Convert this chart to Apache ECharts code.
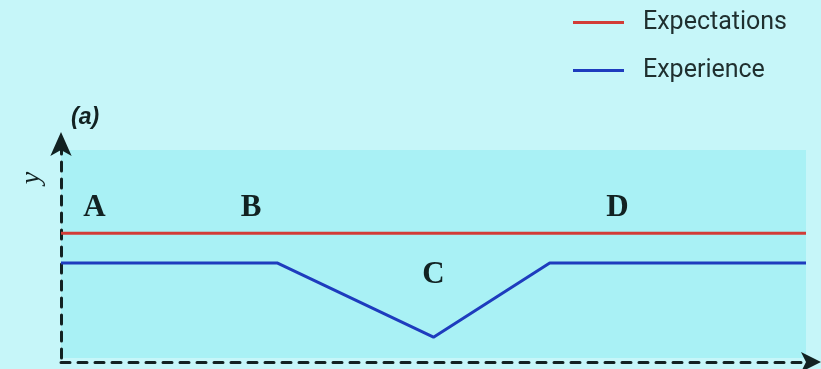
<!DOCTYPE html>
<html>
<head>
<meta charset="utf-8">
<style>
  html, body { margin: 0; padding: 0; background: #c6f6f9; }
  #chart { width: 821px; height: 369px; }
</style>
<script src="https://cdn.jsdelivr.net/npm/echarts@6/dist/echarts.min.js"></script>
</head>
<body>
<div id="chart"></div>
<script>
// x runs 0..100 across the panel, y runs 0..10 bottom to top
const expectationsX = [0, 100];
const expectationsY = [6, 6];
const experienceX = [0, 29, 50, 65.6, 100];
const experienceY = [4.57, 4.57, 1, 4.57, 4.57];

const phaseLabels = ["A", "B", "C", "D"];
const phaseX = [4.5, 25.5, 50, 74.7];
const phaseY = [7.2, 7.2, 4, 7.2];

const INK = "#122222";
const RED = "#d23c37";
const BLUE = "#1e3cbe";

const chart = echarts.init(document.getElementById("chart"));

const axisDash = {
  show: true,
  onZero: false,
  lineStyle: { color: INK, width: 3, type: [9, 8] },
};

chart.setOption({
  backgroundColor: "#c6f6f9",
  animation: false,
  title: {
    text: "(a)",
    left: 66,
    top: 101,
    textStyle: {
      fontFamily: "Liberation Sans",
      fontStyle: "italic",
      fontWeight: "bold",
      fontSize: 23,
      color: INK,
    },
  },
  legend: {
    orient: "vertical",
    left: 573,
    top: 10,
    padding: 0,
    itemWidth: 51,
    itemHeight: 3,
    itemGap: 23,
    icon: "rect",
    textStyle: {
      fontFamily: "Roboto",
      fontSize: 25,
      color: "#1f2f2f",
      padding: [0, 0, 0, 14],
    },
    data: ["Expectations", "Experience"],
  },
  grid: {
    left: 61,
    right: 15,
    top: 150,
    bottom: 11,
    show: true,
    backgroundColor: "#a9f1f5",
    borderWidth: 0,
  },
  xAxis: {
    type: "value",
    min: 0,
    max: 100,
    offset: 4,
    axisLine: {
      ...axisDash,
      symbol: ["none", "arrow"],
      symbolSize: [15, 20],
      symbolOffset: [0, 15],
    },
    axisTick: { show: false },
    axisLabel: { show: false },
    splitLine: { show: false },
  },
  yAxis: {
    type: "value",
    min: 0,
    max: 10,
    axisLine: {
      ...axisDash,
      symbol: ["none", "arrow"],
      symbolSize: [16, 24],
      symbolOffset: [0, 18],
    },
    axisTick: { show: false },
    axisLabel: { show: false },
    splitLine: { show: false },
  },
  graphic: [
    {
      type: "text",
      x: 32,
      y: 178,
      rotation: Math.PI / 2,
      style: {
        text: "y",
        font: "italic 28px 'Liberation Serif'",
        fill: INK,
        align: "center",
        verticalAlign: "middle",
      },
    },
  ],
  series: [
    {
      name: "Expectations",
      type: "line",
      showSymbol: false,
      color: RED,
      lineStyle: { color: RED, width: 3 },
      data: expectationsX.map((x, i) => [x, expectationsY[i]]),
    },
    {
      name: "Experience",
      type: "line",
      showSymbol: false,
      color: BLUE,
      lineStyle: { color: BLUE, width: 3 },
      data: experienceX.map((x, i) => [x, experienceY[i]]),
    },
    {
      name: "phases",
      type: "scatter",
      symbolSize: 0,
      silent: true,
      itemStyle: { opacity: 1 },
      label: {
        show: true,
        position: "inside",
        formatter: (p) => phaseLabels[p.dataIndex],
        fontFamily: "Liberation Serif",
        fontWeight: "bold",
        fontSize: 31,
        color: INK,
      },
      data: phaseX.map((x, i) => [x, phaseY[i]]),
    },
  ],
});
</script>
</body>
</html>
